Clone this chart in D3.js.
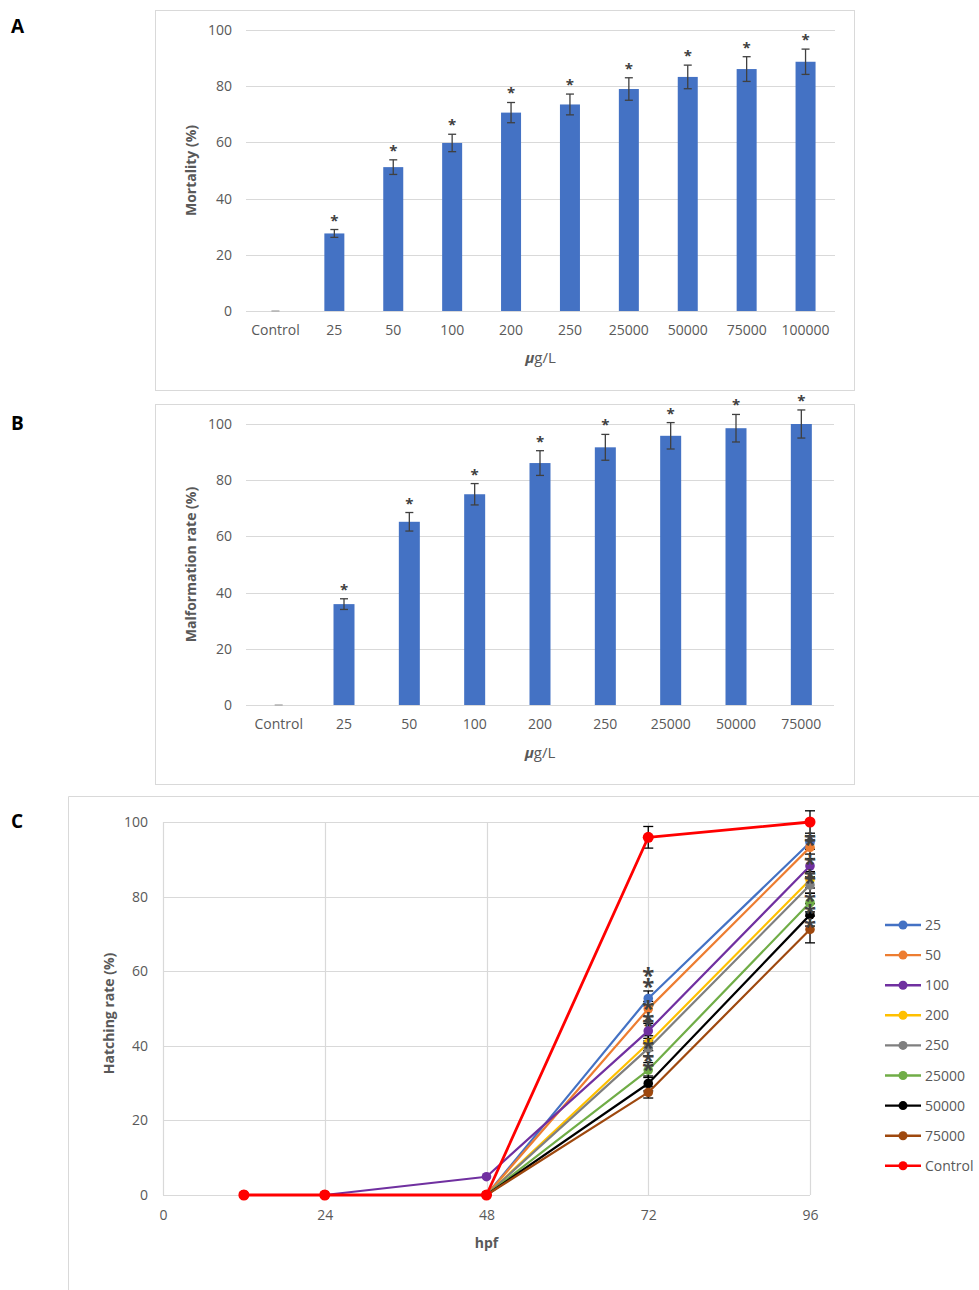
<!DOCTYPE html>
<html>
<head>
<meta charset="utf-8">
<script src="https://cdn.jsdelivr.net/npm/d3@7"></script>
<style>
  body { margin: 0; background: #fff; }
  svg { display: block; font-family: "Open Sans", "Liberation Sans", sans-serif; }
</style>
</head>
<body>
<svg id="fig" width="979" height="1290"></svg>
<script>
// ---- Panel A: mortality ----
const mortCats = ["Control", "25", "50", "100", "200", "250", "25000", "50000", "75000", "100000"];
const mortVals = [0, 27.6, 51.2, 59.8, 70.6, 73.5, 79.0, 83.3, 86.1, 88.7];
const mortErr  = [0, 1.4, 2.6, 3.1, 3.6, 3.7, 4.0, 4.2, 4.4, 4.5];
const mortSig  = [false, true, true, true, true, true, true, true, true, true];

// ---- Panel B: malformation ----
const malfCats = ["Control", "25", "50", "100", "200", "250", "25000", "50000", "75000"];
const malfVals = [0, 35.9, 65.2, 75.0, 86.1, 91.7, 95.8, 98.5, 100];
const malfErr  = [0, 1.9, 3.3, 3.8, 4.4, 4.6, 4.7, 4.9, 5.0];
const malfSig  = [false, true, true, true, true, true, true, true, true];

// ---- Panel C: hatching over time ----
const hatchHours = [12, 24, 48, 72, 96];
const hatchNames = ["25", "50", "100", "200", "250", "25000", "50000", "75000", "Control"];
const hatch25      = [0, 0, 0,   52.7, 94.5];
const hatch50      = [0, 0, 0,   49.9, 93.2];
const hatch100     = [0, 0, 4.9, 44.0, 88.2];
const hatch200     = [0, 0, 0,   40.7, 84.5];
const hatch250     = [0, 0, 0,   39.3, 83.1];
const hatch25000   = [0, 0, 0,   33.5, 78.4];
const hatch50000   = [0, 0, 0,   29.9, 75.1];
const hatch75000   = [0, 0, 0,   27.5, 71.2];
const hatchControl = [0, 0, 0,   95.9, 100];
const hatchErr25      = [0, 0, 0, 2.0, 1.8];
const hatchErr50      = [0, 0, 0, 2.0, 1.8];
const hatchErr100     = [0, 0, 0, 2.0, 2.0];
const hatchErr200     = [0, 0, 0, 2.0, 2.2];
const hatchErr250     = [0, 0, 0, 2.0, 2.2];
const hatchErr25000   = [0, 0, 0, 2.0, 2.5];
const hatchErr50000   = [0, 0, 0, 2.0, 3.0];
const hatchErr75000   = [0, 0, 0, 1.5, 3.6];
const hatchErrControl = [0, 0, 0, 2.9, 3.0];
const hatchSigHours = [72, 96];
const hatchColors = ["#4472C4", "#ED7D31", "#7030A0", "#FFC000", "#7F7F7F", "#70AD47", "#000000", "#9E480E", "#FF0000"];
const hatchTicks = [0, 24, 48, 72, 96];
const yTicks = [0, 20, 40, 60, 80, 100];

const svg = d3.select("#fig");
const textCol = "#595959";
const gridCol = "#D9D9D9";

function panelLetter(txt, y) {
  svg.append("text").attr("x", 11).attr("y", y)
    .attr("font-size", 19).attr("font-weight", "bold").attr("fill", "#000")
    .text(txt);
}

function styleTicks(sel) {
  sel.select(".domain").remove();
  sel.selectAll("text").attr("font-size", 14).attr("fill", textCol)
    .attr("font-family", "'Open Sans', sans-serif");
}

function barPanel(opt) {
  const g = svg.append("g");
  g.append("rect").attr("x", opt.box[0] + 0.5).attr("y", opt.box[1] + 0.5)
    .attr("width", opt.box[2]).attr("height", opt.box[3])
    .attr("fill", "#fff").attr("stroke", gridCol);

  const x = d3.scaleBand().domain(opt.cats).range(opt.xr).paddingInner(opt.pad).paddingOuter(opt.pad / 2);
  const y = d3.scaleLinear().domain([0, 100]).range(opt.yr);

  // gridlines
  g.append("g").selectAll("line").data(yTicks).join("line")
    .attr("x1", opt.xr[0]).attr("x2", opt.xr[1])
    .attr("y1", d => Math.round(y(d)) + 0.5).attr("y2", d => Math.round(y(d)) + 0.5)
    .attr("stroke", gridCol).attr("stroke-width", 1.2);

  styleTicks(g.append("g").attr("transform", `translate(${opt.xr[0] - 14},0)`)
    .call(d3.axisLeft(y).tickValues(yTicks).tickSize(0).tickPadding(0)));

  styleTicks(g.append("g").attr("transform", `translate(0,${opt.yr[0] + 14})`)
    .call(d3.axisBottom(x).tickSize(0).tickPadding(0)));

  const bw = opt.barW;
  const cx = d => x(d) + x.bandwidth() / 2;

  g.append("g").selectAll("rect").data(opt.cats).join("rect")
    .attr("x", d => cx(d) - bw / 2)
    .attr("y", (d, i) => y(opt.vals[i]))
    .attr("width", bw)
    .attr("height", (d, i) => y(0) - y(opt.vals[i]))
    .attr("fill", "#4472C4");

  // error bars
  const eb = g.append("g").attr("stroke", "#404040").attr("stroke-width", 1.3);
  opt.cats.forEach((c, i) => {
    const v = opt.vals[i], e = opt.err[i], xc = cx(c);
    if (e === 0) {
      eb.append("line").attr("x1", xc - 4).attr("x2", xc + 4)
        .attr("y1", y(0)).attr("y2", y(0)).attr("stroke", "#A6A6A6");
      return;
    }
    eb.append("line").attr("x1", xc).attr("x2", xc).attr("y1", y(v + e)).attr("y2", y(v - e));
    eb.append("line").attr("x1", xc - 4).attr("x2", xc + 4).attr("y1", y(v + e)).attr("y2", y(v + e));
    eb.append("line").attr("x1", xc - 4).attr("x2", xc + 4).attr("y1", y(v - e)).attr("y2", y(v - e));
  });

  // significance marks
  g.append("g").selectAll("text").data(opt.cats.filter((c, i) => opt.sig[i])).join("text")
    .attr("x", d => cx(d))
    .attr("y", d => { const i = opt.cats.indexOf(d); return y(opt.vals[i] + opt.err[i]) - 4; })
    .attr("text-anchor", "middle").attr("font-size", 15).attr("font-weight", "bold")
    .attr("fill", "#404040").text("*");

  // axis titles
  g.append("text")
    .attr("transform", `translate(${opt.yTitleX},${(opt.yr[0] + opt.yr[1]) / 2}) rotate(-90)`)
    .attr("text-anchor", "middle").attr("font-size", 14).attr("font-weight", "bold")
    .attr("fill", textCol).text(opt.yTitle);
  const xt = g.append("text").attr("x", (opt.xr[0] + opt.xr[1]) / 2).attr("y", opt.xTitleY)
    .attr("text-anchor", "middle").attr("font-size", 15).attr("fill", textCol);
  xt.append("tspan").attr("font-style", "italic").attr("font-weight", "bold").text("μ");
  xt.append("tspan").text("g/L");
}

panelLetter("A", 33);
barPanel({
  box: [155, 10, 699, 380], xr: [246, 835], yr: [311, 30],
  cats: mortCats, vals: mortVals, err: mortErr, sig: mortSig,
  pad: 0.02, barW: 20, yTitle: "Mortality (%)", yTitleX: 196, xTitleY: 363
});

panelLetter("B", 430);
barPanel({
  box: [155, 404, 699, 380], xr: [246, 834], yr: [705, 424],
  cats: malfCats, vals: malfVals, err: malfErr, sig: malfSig,
  pad: 0.02, barW: 21, yTitle: "Malformation rate (%)", yTitleX: 196, xTitleY: 758
});

// ---- Panel C ----
panelLetter("C", 828);
{
  const g = svg.append("g");
  g.append("path").attr("d", "M68.5,1290 V796.5 H979")
    .attr("fill", "none").attr("stroke", gridCol);

  const x = d3.scaleLinear().domain([0, 96]).range([163, 810]);
  const y = d3.scaleLinear().domain([0, 100]).range([1195, 822]);

  g.append("g").selectAll("line").data(yTicks).join("line")
    .attr("x1", x(0)).attr("x2", x(96))
    .attr("y1", d => Math.round(y(d)) + 0.5).attr("y2", d => Math.round(y(d)) + 0.5)
    .attr("stroke", gridCol).attr("stroke-width", 1.2);
  g.append("g").selectAll("line").data(hatchTicks).join("line")
    .attr("x1", d => Math.round(x(d)) + 0.5).attr("x2", d => Math.round(x(d)) + 0.5)
    .attr("y1", y(0)).attr("y2", y(100))
    .attr("stroke", gridCol).attr("stroke-width", 1.2);

  styleTicks(g.append("g").attr("transform", `translate(${x(0) - 15},0)`)
    .call(d3.axisLeft(y).tickValues(yTicks).tickSize(0).tickPadding(0)));
  styleTicks(g.append("g").attr("transform", `translate(0,${y(0) + 15})`)
    .call(d3.axisBottom(x).tickValues(hatchTicks).tickSize(0).tickPadding(0)));

  g.append("text")
    .attr("transform", `translate(114,${(y(0) + y(100)) / 2 + 5}) rotate(-90)`)
    .attr("text-anchor", "middle").attr("font-size", 14).attr("font-weight", "bold")
    .attr("fill", textCol).text("Hatching rate (%)");
  g.append("text").attr("x", x(48)).attr("y", 1248)
    .attr("text-anchor", "middle").attr("font-size", 14).attr("font-weight", "bold")
    .attr("fill", textCol).text("hpf");

  const seriesVals = [hatch25, hatch50, hatch100, hatch200, hatch250, hatch25000, hatch50000, hatch75000, hatchControl];
  const seriesErr = [hatchErr25, hatchErr50, hatchErr100, hatchErr200, hatchErr250, hatchErr25000, hatchErr50000, hatchErr75000, hatchErrControl];
  const series = hatchNames.map((n, i) => ({
    name: n, color: hatchColors[i], control: n === "Control",
    pts: hatchHours.map((h, j) => ({ h, v: seriesVals[i][j], e: seriesErr[i][j] }))
  }));

  const line = d3.line().x(d => x(d.h)).y(d => y(d.v));

  // error bars (behind markers)
  const eb = g.append("g").attr("stroke", "#000").attr("stroke-width", 1.3);
  series.forEach(s => s.pts.forEach(p => {
    if (p.e <= 0) return;
    const xc = x(p.h);
    eb.append("line").attr("x1", xc).attr("x2", xc).attr("y1", y(p.v + p.e)).attr("y2", y(p.v - p.e));
    eb.append("line").attr("x1", xc - 5).attr("x2", xc + 5).attr("y1", y(p.v + p.e)).attr("y2", y(p.v + p.e));
    eb.append("line").attr("x1", xc - 5).attr("x2", xc + 5).attr("y1", y(p.v - p.e)).attr("y2", y(p.v - p.e));
  }));

  series.forEach(s => {
    const sg = g.append("g");
    sg.append("path").datum(s.pts).attr("d", line).attr("fill", "none")
      .attr("stroke", s.color).attr("stroke-width", s.control ? 2.8 : 2.2)
      .attr("stroke-linejoin", "round");
    sg.selectAll("circle").data(s.pts).join("circle")
      .attr("cx", d => x(d.h)).attr("cy", d => y(d.v))
      .attr("r", s.control ? 5.5 : 4.8).attr("fill", s.color);
  });

  // significance marks for treated groups
  const stars = g.append("g").attr("fill", "#404040").attr("font-size", 22)
    .attr("font-weight", "bold").attr("text-anchor", "middle");
  series.filter(s => !s.control).forEach(s => {
    s.pts.filter(p => hatchSigHours.includes(p.h)).forEach(p => {
      const lift = p.h === 72 ? 30 : 10;
      stars.append("text").attr("x", x(p.h)).attr("y", y(p.v) - lift + 15).text("*");
    });
  });

  // legend
  const lg = g.append("g");
  series.forEach((s, i) => {
    const yy = 925 + i * 30.1;
    lg.append("line").attr("x1", 885).attr("x2", 921).attr("y1", yy).attr("y2", yy)
      .attr("stroke", s.color).attr("stroke-width", 2.4);
    lg.append("circle").attr("cx", 903).attr("cy", yy).attr("r", 4.5).attr("fill", s.color);
    lg.append("text").attr("x", 925).attr("y", yy + 5)
      .attr("font-size", 14).attr("fill", textCol).text(s.name);
  });
}
</script>
</body>
</html>
